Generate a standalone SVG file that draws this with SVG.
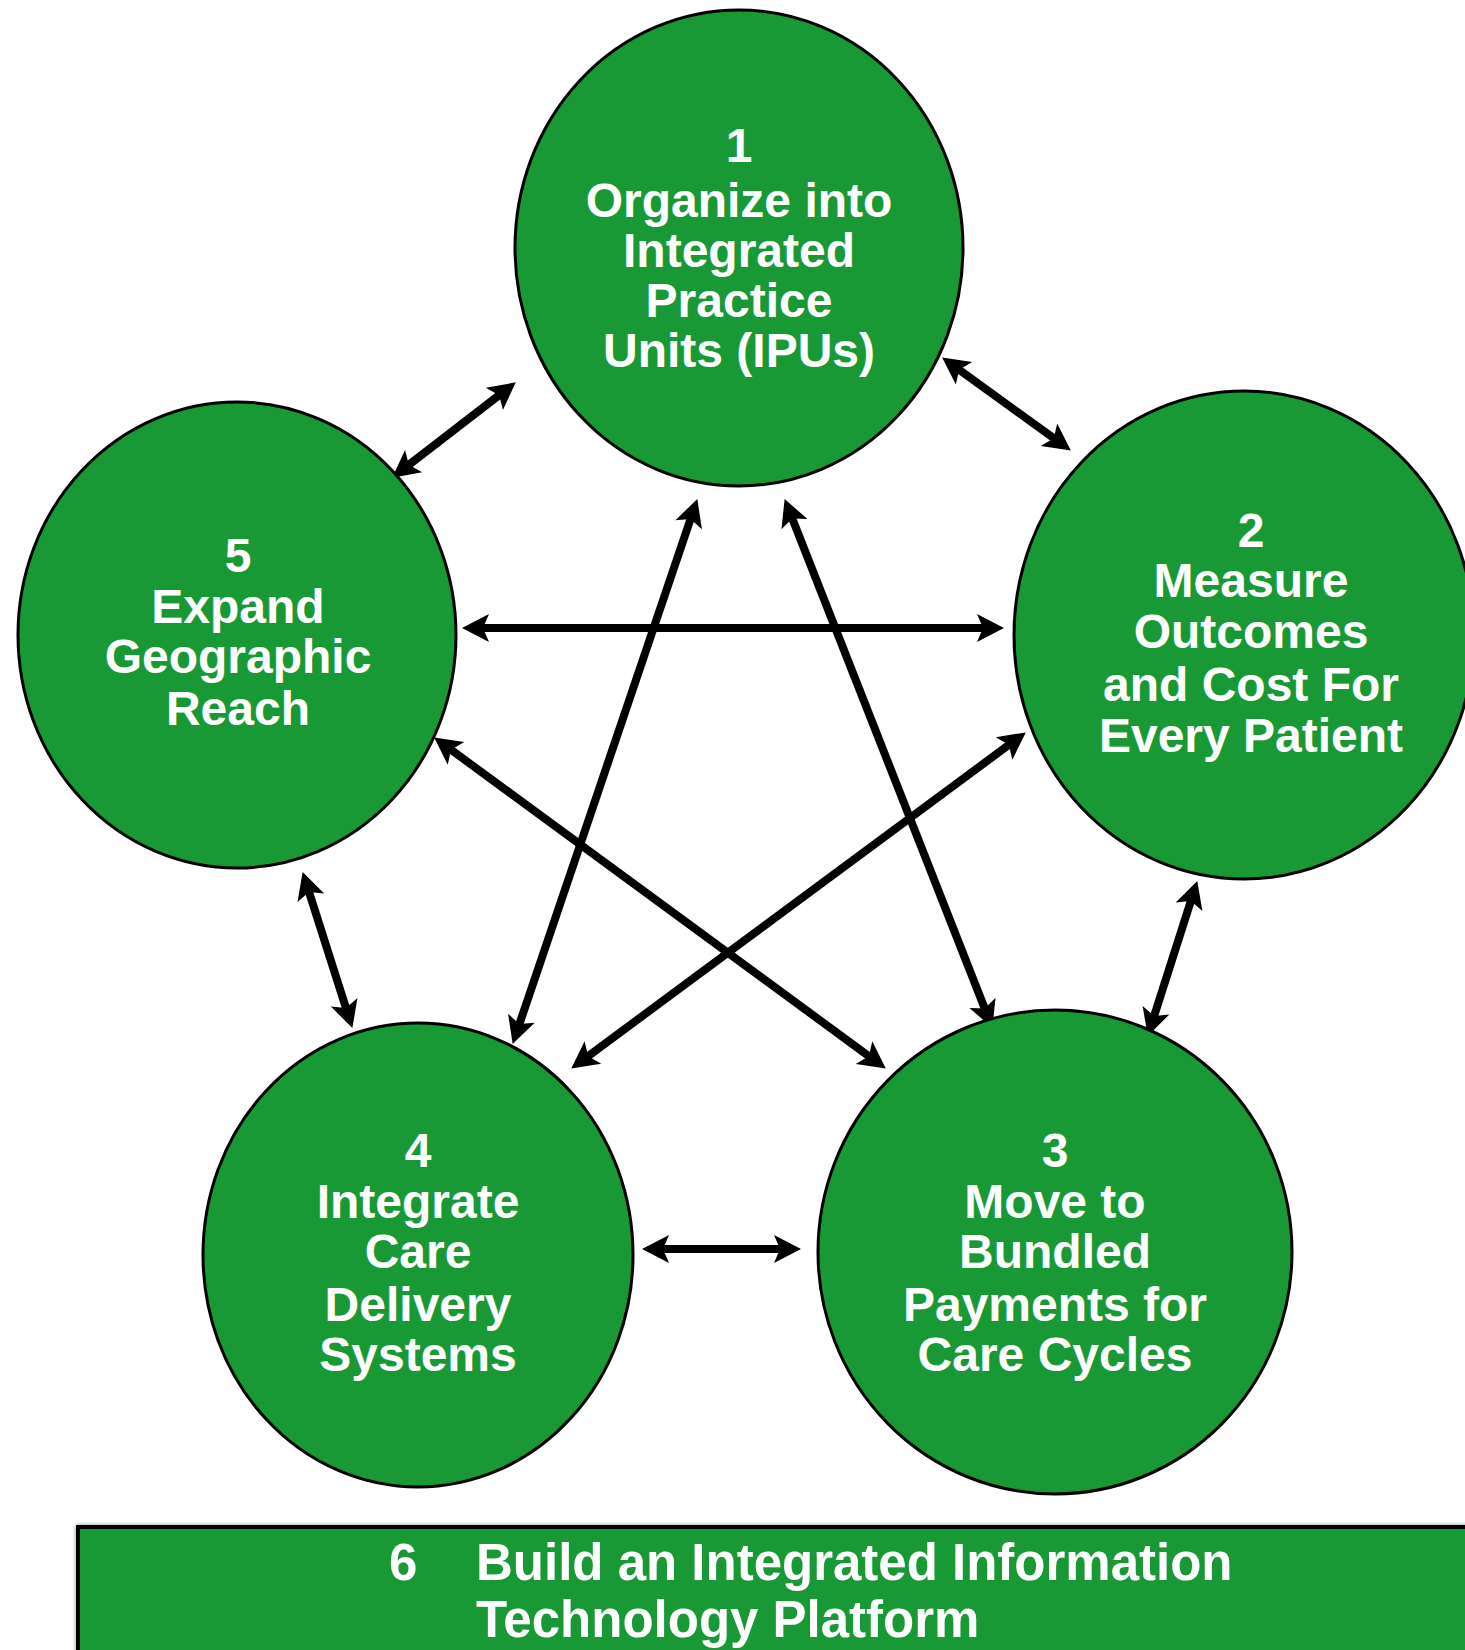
<svg xmlns="http://www.w3.org/2000/svg" width="1465" height="1650" viewBox="0 0 1465 1650">
  <style>
    .node { fill: #199936; stroke: #000; stroke-width: 3; }
    .label { font-family: "Liberation Sans", Arial, sans-serif; font-weight: bold; font-size: 48px; fill: #fff; text-anchor: middle; }
    .band-label { font-family: "Liberation Sans", Arial, sans-serif; font-weight: bold; font-size: 51px; fill: #fff; }
    .link { stroke: #000; stroke-width: 8; fill: none; marker-start: url(#head); marker-end: url(#head); }
  </style>
  <defs>
    <marker id="head" viewBox="-2 -16 32 32" markerWidth="32" markerHeight="32" refX="12" refY="0" orient="auto-start-reverse" markerUnits="userSpaceOnUse">
      <path d="M27,0 L0,-14 L6,0 L0,14 Z" fill="#000"/>
    </marker>
    <filter id="soft" x="-5%" y="-20%" width="110%" height="140%">
      <feGaussianBlur stdDeviation="2"/>
    </filter>
  </defs>

  <rect width="1465" height="1650" fill="#fff"/>

  <!-- connectors: every pair of steps is linked both ways -->
  <g id="connectors">
    <line class="link" x1="954.3" y1="366.2" x2="1058.7" y2="441.8"/>
    <line class="link" x1="503.9" y1="391.5" x2="404.1" y2="468.5"/>
    <line class="link" x1="477" y1="628" x2="989" y2="628"/>
    <line class="link" x1="692.5" y1="513.3" x2="517.5" y2="1029.7"/>
    <line class="link" x1="790.1" y1="513.0" x2="986.9" y2="1014.0"/>
    <line class="link" x1="446.3" y1="746.3" x2="873.7" y2="1059.7"/>
    <line class="link" x1="1013.7" y1="741.3" x2="583.3" y2="1059.7"/>
    <line class="link" x1="307.2" y1="886.3" x2="347.8" y2="1013.7"/>
    <line class="link" x1="1192.7" y1="895.3" x2="1152.3" y2="1021.7"/>
    <line class="link" x1="657" y1="1249" x2="786" y2="1249"/>
  </g>

  <g id="step1">
    <ellipse class="node" cx="739" cy="248" rx="224" ry="238"/>
    <text class="label" x="739" y="162">1</text>
    <text class="label" x="739" y="217">Organize into</text>
    <text class="label" x="739" y="267">Integrated</text>
    <text class="label" x="739" y="317">Practice</text>
    <text class="label" x="739" y="367">Units (IPUs)</text>
  </g>

  <g id="step2">
    <ellipse class="node" cx="1244" cy="635" rx="230" ry="244"/>
    <text class="label" x="1251" y="547">2</text>
    <text class="label" x="1251" y="597">Measure</text>
    <text class="label" x="1251" y="648">Outcomes</text>
    <text class="label" x="1251" y="701">and Cost For</text>
    <text class="label" x="1251" y="752">Every Patient</text>
  </g>

  <g id="step3">
    <ellipse class="node" cx="1055" cy="1252" rx="237" ry="242"/>
    <text class="label" x="1055" y="1167">3</text>
    <text class="label" x="1055" y="1218">Move to</text>
    <text class="label" x="1055" y="1268">Bundled</text>
    <text class="label" x="1055" y="1321">Payments for</text>
    <text class="label" x="1055" y="1371">Care Cycles</text>
  </g>

  <g id="step4">
    <ellipse class="node" cx="418" cy="1255" rx="215" ry="232"/>
    <text class="label" x="418" y="1167">4</text>
    <text class="label" x="418" y="1218">Integrate</text>
    <text class="label" x="418" y="1268">Care</text>
    <text class="label" x="418" y="1321">Delivery</text>
    <text class="label" x="418" y="1371">Systems</text>
  </g>

  <g id="step5">
    <ellipse class="node" cx="237" cy="635" rx="219" ry="233"/>
    <text class="label" x="238" y="572">5</text>
    <text class="label" x="238" y="623">Expand</text>
    <text class="label" x="238" y="673">Geographic</text>
    <text class="label" x="238" y="725">Reach</text>
  </g>

  <!-- foundation band underneath the five steps -->
  <g id="step6">
    <rect x="76" y="1525" width="1420" height="140" fill="#888" filter="url(#soft)"/>
    <rect x="78" y="1527" width="1420" height="140" fill="#199936" stroke="#000" stroke-width="4"/>
    <text class="band-label" x="389" y="1580">6</text>
    <text class="band-label" x="476" y="1580">Build an Integrated Information</text>
    <text class="band-label" x="476" y="1637">Technology Platform</text>
  </g>
</svg>
